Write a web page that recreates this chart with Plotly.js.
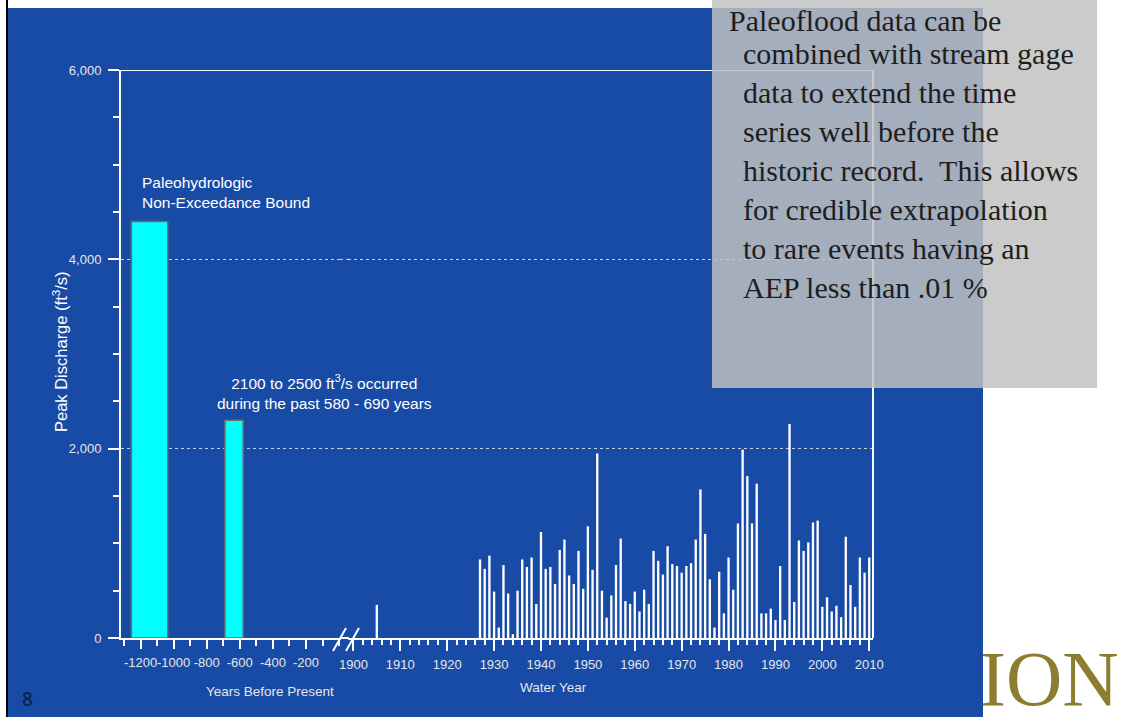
<!DOCTYPE html>
<html>
<head>
<meta charset="utf-8">
<script src="https://cdn.plot.ly/plotly-3.0.1.min.js"></script>
<style>html,body{margin:0;padding:0;background:#fff;}#chart{width:1123px;height:717px;}</style>
</head>
<body>
<div id="chart"></div>
<script>
// Paleoflood (years before present, shown as negative) intervals and discharges
const paleoStart = [-1255, -690];
const paleoEnd = [-1035, -580];
const paleoPeak = [4400, 2300];

// Stream gage annual peaks (water year, ft^3/s)
const gageYears = [1905,
  1927,1928,1929,1930,1931,1932,1933,1934,1935,1936,1937,1938,1939,
  1940,1941,1942,1943,1944,1945,1946,1947,1948,1949,
  1950,1951,1952,1953,1954,1955,1956,1957,1958,1959,
  1960,1961,1962,1963,1964,1965,1966,1967,1968,1969,
  1970,1971,1972,1973,1974,1975,1976,1977,1978,1979,
  1980,1981,1982,1983,1984,1985,1986,1987,1988,1989,
  1990,1991,1992,1993,1994,1995,1996,1997,1998,1999,
  2000,2001,2002,2003,2004,2005,2006,2007,2008,2009,2010];
const gagePeak = [350,
  830,730,870,490,110,770,470,40,500,830,750,850,360,
  1120,730,750,570,930,1040,660,570,920,520,
  1180,720,1950,500,215,450,770,1050,390,360,
  490,280,510,360,920,815,670,970,780,760,
  690,760,790,1040,1570,1100,620,110,700,260,
  850,510,1210,1990,1710,1210,1630,260,260,310,
  190,760,190,2260,380,1030,920,1010,1220,1240,
  330,430,280,340,220,1070,560,330,850,690,850];

// Tick labels / texts
const yTickVals = [0, 2000, 4000, 6000];
const yTickText = ['0', '2,000', '4,000', '6,000'];
const yGridVals = [2000, 4000];
const paleoTickVals = [-1200, -1000, -800, -600, -400, -200];
const paleoTickText = ['-1200', '-1000', '-800', '-600', '-400', '-200'];
const yearTickVals = [1900,1910,1920,1930,1940,1950,1960,1970,1980,1990,2000,2010];
const boxFirstLine = 'Paleoflood data can be';
const boxLines = ['combined with stream gage', 'data to extend the time', 'series well before the',
  'historic record.\u00a0 This allows', 'for credible extrapolation', 'to rare events having an', 'AEP less than .01 %'];

const W = 1123, H = 717, L = 121, R = 873, T = 70, B = 638;
const px = v => (v - L) / (R - L);
const py = v => (B - v) / (B - T);

const paleoMid = paleoStart.map((s, i) => (s + paleoEnd[i]) / 2);
const paleoWidth = paleoStart.map((s, i) => paleoEnd[i] - s);

const tickFont = {family: 'Liberation Sans, Arial, sans-serif', size: 13, color: '#e6e6e6'};
const white = '#ffffff';
const serif = 'Liberation Serif, Times New Roman, serif';

const traces = [
  {type: 'bar', x: paleoMid, y: paleoPeak, width: paleoWidth, xaxis: 'x', yaxis: 'y',
   marker: {color: '#00ffff', line: {color: '#6b6b6b', width: 1.5}}, hoverinfo: 'skip'},
  {type: 'bar', x: gageYears, y: gagePeak, width: 0.5, xaxis: 'x2', yaxis: 'y',
   marker: {color: white, line: {width: 0}}, hoverinfo: 'skip'}
];

const shapes = [
  // slide blue background
  {type: 'rect', xref: 'paper', yref: 'paper', x0: px(8), x1: px(983), y0: py(717), y1: py(8),
   fillcolor: '#184ba5', line: {width: 0}, layer: 'below'},
  // left black border
  {type: 'line', xref: 'paper', yref: 'paper', x0: px(7), x1: px(7), y0: py(717), y1: py(0),
   line: {color: '#000', width: 2}, layer: 'below'},
  // plot frame top and right
  {type: 'line', xref: 'paper', yref: 'y', x0: 0, x1: 1, y0: 6000, y1: 6000,
   line: {color: white, width: 2}, layer: 'above'},
  {type: 'line', xref: 'paper', yref: 'y', x0: 1, x1: 1, y0: 0, y1: 6000,
   line: {color: white, width: 2}, layer: 'above'},
  // axis line under the break
  {type: 'line', xref: 'paper', yref: 'paper', x0: px(340), x1: px(349), y0: 0, y1: 0,
   line: {color: white, width: 2}, layer: 'above'},
  // axis break marks
  {type: 'line', xref: 'paper', yref: 'paper', x0: px(333), x1: px(346), y0: py(651), y1: py(628),
   line: {color: white, width: 2}, layer: 'above'},
  {type: 'line', xref: 'paper', yref: 'paper', x0: px(346), x1: px(359), y0: py(651), y1: py(628),
   line: {color: white, width: 2}, layer: 'above'}
];
// continue dotted gridlines across the gap between the two x domains
yGridVals.forEach(v => shapes.push({type: 'line', xref: 'paper', yref: 'y', x0: px(340), x1: px(349), y0: v, y1: v,
  line: {color: 'rgba(255,255,255,0.75)', width: 1, dash: 'dot'}, layer: 'below'}));
// grey translucent text panel
shapes.push({type: 'rect', xref: 'paper', yref: 'paper', x0: px(712), x1: px(1097), y0: py(388), y1: py(0),
  fillcolor: 'rgba(193,193,193,0.84)', line: {width: 0}, layer: 'above'});

const layout = {
  width: W, height: H,
  margin: {l: L, r: W - R, t: T, b: H - B, pad: 0},
  paper_bgcolor: '#ffffff',
  plot_bgcolor: 'rgba(0,0,0,0)',
  showlegend: false,
  hovermode: false,
  barmode: 'overlay',
  font: {family: 'Liberation Sans, Arial, sans-serif', color: white},
  xaxis: {
    domain: [0, px(341)], range: [-1317.8, 11.5], anchor: 'y',
    tickmode: 'array', tickvals: paleoTickVals, ticktext: paleoTickText, tickangle: 0,
    ticks: 'outside', ticklen: 9, tickwidth: 2, tickcolor: white,
    minor: {dtick: 100, tick0: -1200, ticks: 'outside', ticklen: 6, tickwidth: 2, tickcolor: white, showgrid: false},
    showline: true, linecolor: white, linewidth: 2, showgrid: false, zeroline: false,
    tickfont: tickFont, ticklabelstandoff: 2
  },
  xaxis2: {
    domain: [px(348), 1], range: [1898.85, 2010.8], anchor: 'y',
    tickmode: 'array', tickvals: yearTickVals, tickangle: 0,
    ticks: 'outside', ticklen: 11, tickwidth: 2, tickcolor: white,
    minor: {dtick: 2, tick0: 1900, ticks: 'outside', ticklen: 5, tickwidth: 2, tickcolor: white, showgrid: false},
    showline: true, linecolor: white, linewidth: 2, showgrid: false, zeroline: false,
    tickfont: tickFont, ticklabelstandoff: 2
  },
  yaxis: {
    domain: [0, 1], range: [0, 6000], anchor: 'x',
    tickmode: 'array', tickvals: yTickVals, ticktext: yTickText,
    ticks: 'outside', ticklen: 11, tickwidth: 2, tickcolor: white,
    minor: {dtick: 500, tick0: 0, ticks: 'outside', ticklen: 6, tickwidth: 2, tickcolor: white, showgrid: false},
    showline: true, linecolor: white, linewidth: 2,
    showgrid: true, gridcolor: 'rgba(255,255,255,0.75)', gridwidth: 1, griddash: 'dot',
    zeroline: false, tickfont: tickFont, ticklabelstandoff: 4
  },
  shapes: shapes,
  annotations: [
    {xref: 'paper', yref: 'paper', x: px(60), y: py(352), xanchor: 'center', yanchor: 'middle',
     text: 'Peak Discharge (ft<sup>3</sup>/s)', textangle: -90, showarrow: false,
     font: {size: 16.5, color: white}},
    {xref: 'paper', yref: 'paper', x: px(270), y: py(691), xanchor: 'center', yanchor: 'middle',
     text: 'Years Before Present', showarrow: false, font: {size: 13.5, color: '#e6e6e6'}},
    {xref: 'paper', yref: 'paper', x: px(553), y: py(687), xanchor: 'center', yanchor: 'middle',
     text: 'Water Year', showarrow: false, font: {size: 13.5, color: '#e6e6e6'}},
    {xref: 'paper', yref: 'paper', x: px(140), y: py(192), xanchor: 'left', yanchor: 'middle', align: 'left',
     text: 'Paleohydrologic<br>Non-Exceedance Bound', showarrow: false, font: {size: 15.5, color: white}},
    {xref: 'paper', yref: 'paper', x: px(324), y: py(392), xanchor: 'center', yanchor: 'middle', align: 'center',
     text: '2100 to 2500 ft<sup>3</sup>/s occurred<br>during the past 580 - 690 years', showarrow: false,
     font: {size: 15.5, color: white}},
    {xref: 'paper', yref: 'paper', x: px(727), y: py(20), xanchor: 'left', yanchor: 'middle', align: 'left',
     text: boxFirstLine, showarrow: false, font: {family: serif, size: 30, color: '#1e1e1e'}},
    {xref: 'paper', yref: 'paper', x: px(741), y: py(170), xanchor: 'left', yanchor: 'middle', align: 'left',
     text: boxLines.join('<br>'), showarrow: false, font: {family: serif, size: 30, color: '#1e1e1e'}},
    {xref: 'paper', yref: 'paper', x: px(1121), y: py(678), xanchor: 'right', yanchor: 'middle',
     text: 'ION', showarrow: false, font: {family: serif, size: 78, color: '#8c7d33'}},
    {xref: 'paper', yref: 'paper', x: px(27), y: py(699), xanchor: 'center', yanchor: 'middle',
     text: '8', showarrow: false, font: {family: 'Noto Sans, sans-serif', size: 19, color: '#0d1b3e'}}
  ]
};

Plotly.newPlot('chart', traces, layout, {displayModeBar: false, staticPlot: true});
</script>
</body>
</html>
